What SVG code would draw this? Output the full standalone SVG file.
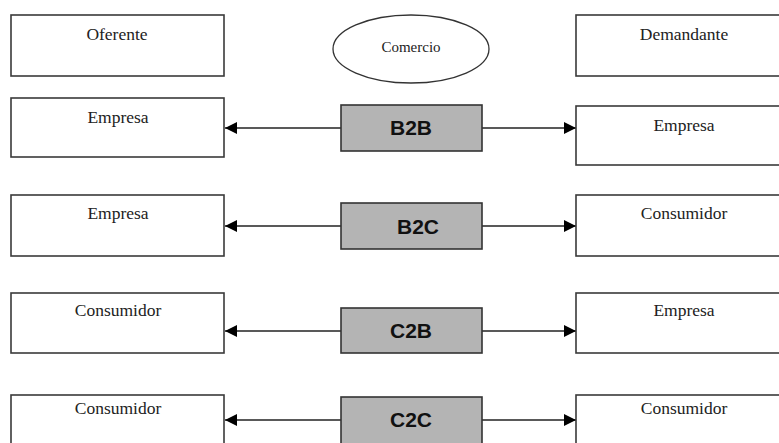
<svg xmlns="http://www.w3.org/2000/svg" width="779" height="443" viewBox="0 0 779 443">
<defs>
<style>
.box{fill:#fff;stroke:#3a3a3a;stroke-width:1.6}
.gbox{fill:#b4b4b4;stroke:#333;stroke-width:1.6}
.t{font-family:"Liberation Serif","Times New Roman",serif;font-size:17.5px;fill:#222;text-anchor:middle}
.g{font-family:"Liberation Sans",Arial,sans-serif;font-size:21px;font-weight:bold;fill:#111;text-anchor:middle}
.c{stroke:#222;stroke-width:1.5;fill:none;marker-end:url(#ah)}
</style>
<marker id="ah" viewBox="0 0 12 12" refX="12" refY="6" markerWidth="12" markerHeight="12" markerUnits="userSpaceOnUse" orient="auto">
<path d="M0,0 L12,6 L0,12 Z" fill="#000"/>
</marker>
</defs>
<rect width="779" height="443" fill="#fff"/>
<g id="connectors">
<line class="c" x1="341" y1="128" x2="225" y2="128"/>
<line class="c" x1="482" y1="128" x2="576" y2="128"/>
<line class="c" x1="341" y1="226" x2="225" y2="226"/>
<line class="c" x1="482" y1="226" x2="576" y2="226"/>
<line class="c" x1="341" y1="331" x2="225" y2="331"/>
<line class="c" x1="482" y1="331" x2="576" y2="331"/>
<line class="c" x1="341" y1="420" x2="225" y2="420"/>
<line class="c" x1="482" y1="420" x2="576" y2="420"/>
</g>
<g id="oferente"><rect class="box" x="11" y="15" width="213" height="61"/><text class="t" x="117" y="40">Oferente</text></g>
<g id="comercio"><ellipse cx="411" cy="49" rx="78" ry="34" fill="#fff" stroke="#333" stroke-width="1.3"/><text class="t" x="411" y="52" style="font-size:15px">Comercio</text></g>
<g id="demandante"><rect class="box" x="576" y="15" width="210" height="61"/><text class="t" x="684" y="40">Demandante</text></g>
<g id="l1"><rect class="box" x="11" y="98" width="213" height="59"/><text class="t" x="118" y="123">Empresa</text></g>
<g id="b2b"><rect class="gbox" x="341" y="105" width="141" height="46"/><text class="g" x="411" y="135">B2B</text></g>
<g id="r1"><rect class="box" x="576" y="106" width="210" height="59"/><text class="t" x="684" y="131">Empresa</text></g>
<g id="l2"><rect class="box" x="11" y="195" width="213" height="61"/><text class="t" x="118" y="219">Empresa</text></g>
<g id="b2c"><rect class="gbox" x="341" y="203" width="141" height="46"/><text class="g" x="418" y="234">B2C</text></g>
<g id="r2"><rect class="box" x="576" y="195" width="210" height="61"/><text class="t" x="684" y="219">Consumidor</text></g>
<g id="l3"><rect class="box" x="11" y="293" width="213" height="60"/><text class="t" x="118" y="316">Consumidor</text></g>
<g id="c2b"><rect class="gbox" x="341" y="308" width="141" height="45"/><text class="g" x="411" y="338">C2B</text></g>
<g id="r3"><rect class="box" x="576" y="293" width="210" height="60"/><text class="t" x="684" y="316">Empresa</text></g>
<g id="l4"><rect class="box" x="11" y="395" width="213" height="60"/><text class="t" x="118" y="414">Consumidor</text></g>
<g id="c2c"><rect class="gbox" x="341" y="397" width="141" height="55"/><text class="g" x="411" y="427">C2C</text></g>
<g id="r4"><rect class="box" x="576" y="395" width="210" height="60"/><text class="t" x="684" y="414">Consumidor</text></g>
</svg>
